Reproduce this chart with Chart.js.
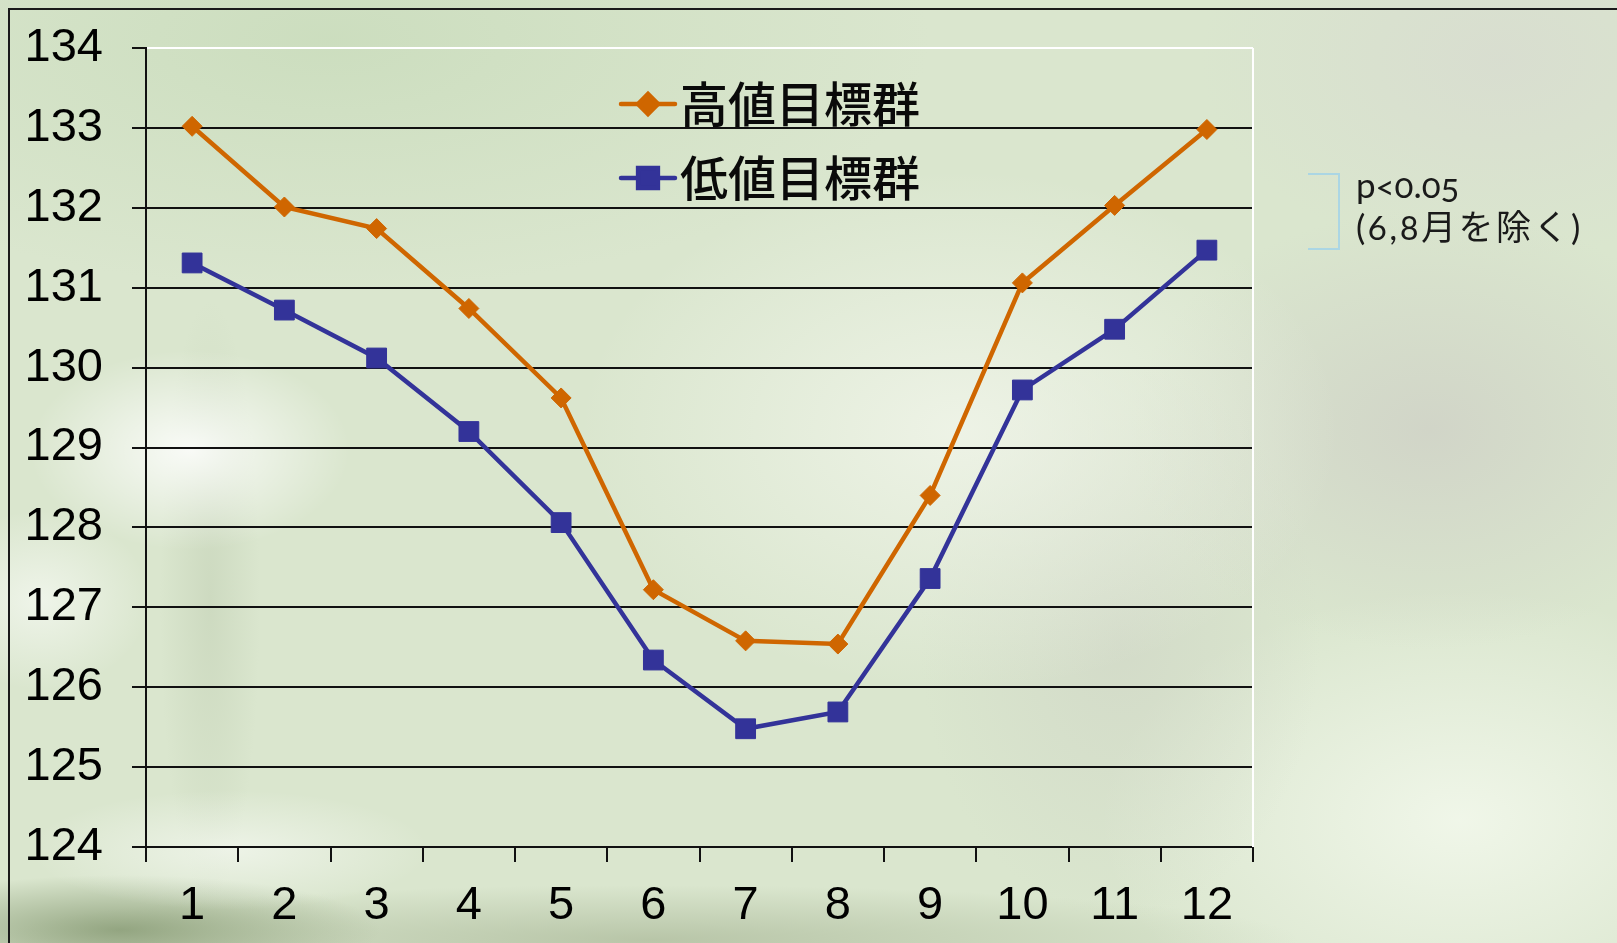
<!DOCTYPE html>
<html>
<head>
<meta charset="utf-8">
<script src="https://cdn.jsdelivr.net/npm/chart.js@4.4.0/dist/chart.umd.min.js"></script>
<style>
html,body{margin:0;padding:0;width:1617px;height:943px;overflow:hidden;}
body{
  position:relative;
  background:
    radial-gradient(ellipse 160px 100px at 190px 450px, rgba(255,255,255,0.85), rgba(255,255,255,0) 100%),
    radial-gradient(ellipse 110px 90px at 40px 600px, rgba(250,252,248,0.65), rgba(255,255,255,0) 100%),
    radial-gradient(ellipse 200px 60px at 230px 850px, rgba(250,252,248,0.6), rgba(255,255,255,0) 100%),
    radial-gradient(ellipse 260px 55px at 120px 930px, rgba(125,145,105,0.75), rgba(125,145,105,0) 100%),
    radial-gradient(ellipse 650px 55px at 650px 940px, rgba(150,165,130,0.5), rgba(150,165,130,0) 100%),
    radial-gradient(ellipse 50px 300px at 210px 600px, rgba(175,190,160,0.3), rgba(175,190,160,0) 100%),
    radial-gradient(ellipse 380px 260px at 960px 430px, rgba(244,247,238,0.75), rgba(244,247,238,0) 100%),
    radial-gradient(ellipse 300px 220px at 1430px 430px, rgba(208,211,199,0.9), rgba(208,211,199,0) 100%),
    radial-gradient(ellipse 200px 280px at 1120px 640px, rgba(205,210,196,0.55), rgba(205,210,196,0) 100%),
    radial-gradient(ellipse 360px 230px at 1460px 820px, rgba(241,247,234,0.95), rgba(241,247,234,0) 100%),
    radial-gradient(ellipse 600px 250px at 330px 40px, rgba(198,218,184,0.7), rgba(198,218,184,0) 100%),
    radial-gradient(ellipse 300px 200px at 1500px 60px, rgba(216,220,208,0.85), rgba(216,220,208,0) 100%),
    #dae6ce;
}
#frame{position:absolute;left:8px;top:8px;width:1700px;height:1000px;border-left:2px solid #1a1a1a;border-top:2px solid #1a1a1a;}
#c{position:absolute;left:0;top:0;}
#bracket{position:absolute;left:1308px;top:173px;width:30px;height:73px;border-top:2px solid #abd6e4;border-right:2px solid #abd6e4;border-bottom:2px solid #abd6e4;}
.note{position:absolute;left:1356px;font-family:"Lato","Noto Sans CJK JP",sans-serif;font-size:35px;color:#1a1a1a;white-space:nowrap;line-height:1;font-variant-numeric:oldstyle-nums;font-feature-settings:"onum" 1;}
</style>
</head>
<body>
<div id="frame"></div>
<canvas id="c" width="1617" height="943"></canvas>
<div id="bracket"></div>
<div class="note" id="n1" style="top:167px;">p&lt;0.05</div>
<div class="note" id="n2" style="top:209px;letter-spacing:2.5px;">(6,8月を除く)</div>
<script>
const months = ['1','2','3','4','5','6','7','8','9','10','11','12'];
const highGroup = [133.02, 132.01, 131.74, 130.74, 129.62, 127.22, 126.58, 126.54, 128.40, 131.06, 132.03, 132.98];
const lowGroup  = [131.31, 130.72, 130.12, 129.20, 128.06, 126.34, 125.48, 125.69, 127.36, 129.72, 130.48, 131.47];
const seriesNames = ['高値目標群', '低値目標群'];
const yMin = 124, yMax = 134, yStep = 1;

const legendPlugin = {
  id: 'customLegend',
  afterDraw(chart) {
    const ctx = chart.ctx;
    const rowsY = [104, 178];
    ctx.save();
    chart.data.datasets.forEach((ds, i) => {
      const y = rowsY[i];
      ctx.strokeStyle = ds.borderColor;
      ctx.lineWidth = ds.borderWidth;
      ctx.lineCap = 'round';
      ctx.beginPath();
      ctx.moveTo(621, y);
      ctx.lineTo(675, y);
      ctx.stroke();
      ctx.fillStyle = ds.pointBackgroundColor;
      ctx.strokeStyle = ds.pointBorderColor;
      Chart.helpers.drawPoint(ctx, {pointStyle: ds.pointStyle, radius: ds.pointRadius, borderWidth: 1, rotation: 0}, 648, y);
      ctx.fillStyle = '#0a0a0a';
      ctx.font = '500 48px "Noto Sans CJK JP"';
      ctx.textBaseline = 'middle';
      ctx.textAlign = 'left';
      ctx.fillText(ds.label, 680, y);
    });
    ctx.restore();
  }
};

const borderPlugin = {
  id: 'plotBorder',
  beforeDatasetsDraw(chart) {
    const a = chart.chartArea, ctx = chart.ctx;
    ctx.save();
    ctx.strokeStyle = '#ffffff';
    ctx.lineWidth = 2;
    ctx.beginPath();
    ctx.moveTo(a.right, a.top);
    ctx.lineTo(a.right, a.bottom);
    ctx.stroke();
    ctx.restore();
  }
};

new Chart(document.getElementById('c'), {
  type: 'line',
  data: {
    labels: months,
    datasets: [
      {
        label: seriesNames[0],
        data: highGroup,
        borderColor: '#cf6600',
        backgroundColor: '#cf6600',
        pointBackgroundColor: '#cf6600',
        pointBorderColor: '#cf6600',
        borderWidth: 4.5,
        pointStyle: 'rectRot',
        pointRadius: 10,
        pointBorderWidth: 1,
        tension: 0
      },
      {
        label: seriesNames[1],
        data: lowGroup,
        borderColor: '#333399',
        backgroundColor: '#333399',
        pointBackgroundColor: '#333399',
        pointBorderColor: '#333399',
        borderWidth: 4.5,
        pointStyle: 'rect',
        pointRadius: 14,
        pointBorderWidth: 1,
        tension: 0
      }
    ]
  },
  options: {
    responsive: false,
    animation: false,
    devicePixelRatio: 1,
    layout: {padding: {left: 0, top: 48, right: 364, bottom: 0}},
    plugins: {legend: {display: false}, tooltip: {enabled: false}},
    scales: {
      x: {
        offset: true,
        afterFit(s) { s.height = 96; s.paddingLeft = 0; s.paddingRight = 0; },
        grid: {drawOnChartArea: false, drawTicks: true, tickLength: 15, color: '#111', lineWidth: 2, offset: true},
        border: {color: '#111', width: 2},
        ticks: {color: '#000', font: {family: '"Liberation Sans", Arial, sans-serif', size: 47}, padding: 16, maxRotation: 0, autoSkip: false}
      },
      y: {
        min: yMin, max: yMax,
        afterFit(s) { s.width = 146; s.paddingTop = 0; s.paddingBottom = 0; },
        grid: {
          color: (c) => (c.tick && c.tick.value === yMax) ? '#ffffff' : '#111',
          tickColor: '#111',
          lineWidth: 2,
          tickLength: 14
        },
        border: {color: '#111', width: 2},
        ticks: {stepSize: yStep, color: '#000', font: {family: '"Liberation Sans", Arial, sans-serif', size: 47}, padding: 29}
      }
    }
  },
  plugins: [legendPlugin, borderPlugin]
});
</script>
</body>
</html>
